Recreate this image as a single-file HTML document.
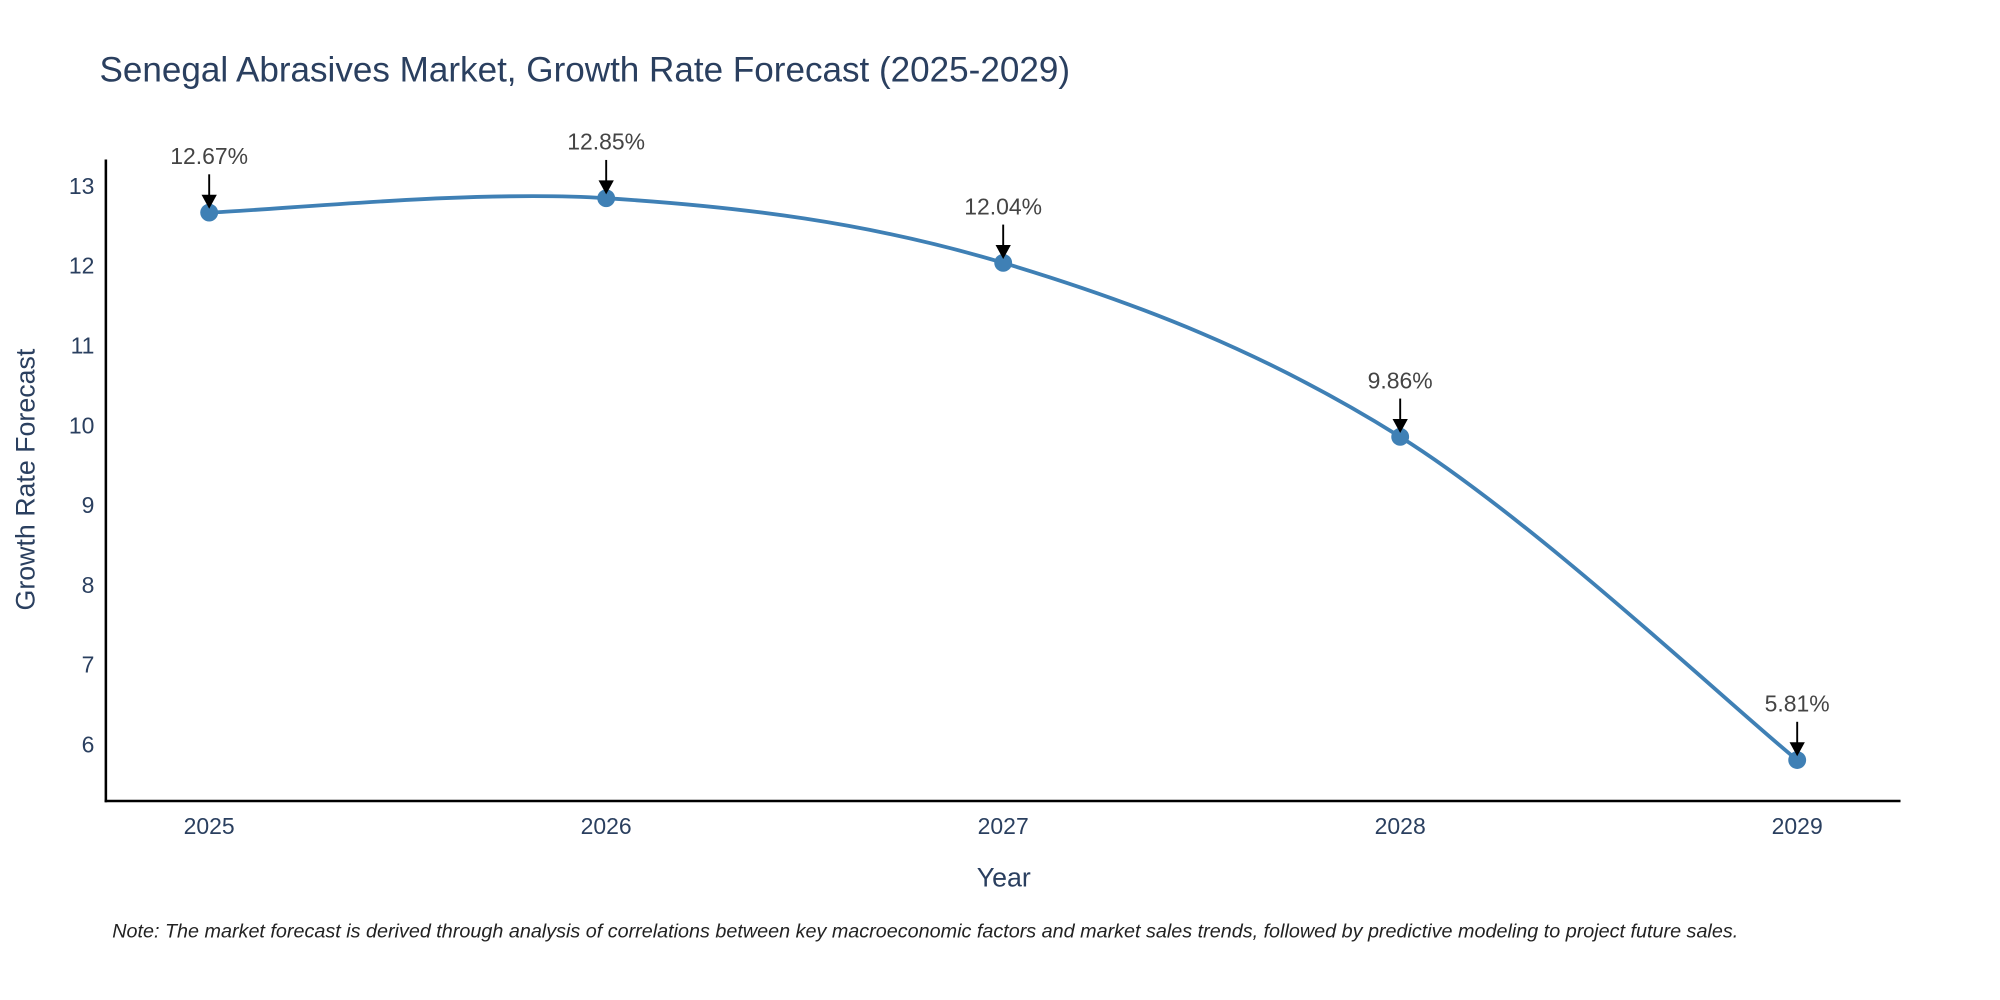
<!DOCTYPE html>
<html><head><meta charset="utf-8"><style>
html,body{margin:0;padding:0;background:#fff;width:2000px;height:1000px;overflow:hidden}
#wrap{width:1568px;height:784px;transform:scale(1.27551);transform-origin:0 0}
text{font-family:"Liberation Sans",sans-serif}
</style></head><body>
<div id="wrap">
<svg id="chart" width="1568" height="784">
<text x="78" y="64" font-size="27.5" fill="#2a3f5f">Senegal Abrasives Market, Growth Rate Forecast (2025-2029)</text>
<g id="yticks"></g><g id="xticks"></g>
<line x1="83" y1="125" x2="83" y2="629" stroke="#000" stroke-width="2"/>
<line x1="82" y1="628" x2="1490" y2="628" stroke="#000" stroke-width="2"/>
<path id="curve" fill="none" stroke="#3f80b5" stroke-width="3"/>
<g id="pts"></g>
<text x="787" y="695" font-size="21" fill="#2a3f5f" text-anchor="middle">Year</text>
<text transform="translate(27,376) rotate(-90)" font-size="21" fill="#2a3f5f" text-anchor="middle">Growth Rate Forecast</text>
<text x="88" y="735" font-size="15.5" font-style="italic" fill="#222">Note: The market forecast is derived through analysis of correlations between key macroeconomic factors and market sales trends, followed by predictive modeling to project future sales.</text>
</svg></div>
<script>
const years=["2025","2026","2027","2028","2029"];
const values=[12.67,12.85,12.04,9.86,5.81];
const valueLabels=["12.67%","12.85%","12.04%","9.86%","5.81%"];
const yTicks=[6,7,8,9,10,11,12,13];
const NS="http://www.w3.org/2000/svg";
function xs(i){return 164+i*311.25;}
function ys(v){return 584-(v-6)*62.57;}
function mk(tag,attrs,parent){const e=document.createElementNS(NS,tag);for(const k in attrs)e.setAttribute(k,attrs[k]);parent.appendChild(e);return e;}
const yt=document.getElementById('yticks');
yTicks.forEach(t=>{const e=mk('text',{x:74,y:ys(t)+6,'font-size':18,fill:'#2a3f5f','text-anchor':'end'},yt);


e.textContent=t;});
const xt=document.getElementById('xticks');
years.forEach((y,i)=>{const e=mk('text',{x:xs(i),y:654,'font-size':18,fill:'#2a3f5f','text-anchor':'middle'},xt);


e.textContent=y;});
const P=values.map((v,i)=>[xs(i),ys(v)]);
let d='M'+P[0][0]+','+P[0][1];
const s=0.17;
for(let i=0;i<P.length-1;i++){const p0=P[Math.max(0,i-1)],p1=P[i],p2=P[i+1],p3=P[Math.min(P.length-1,i+2)];
const c1=[p1[0]+(p2[0]-p0[0])*s,p1[1]+(p2[1]-p0[1])*s],c2=[p2[0]-(p3[0]-p1[0])*s,p2[1]-(p3[1]-p1[1])*s];
d+=' C'+c1+' '+c2+' '+p2;}
document.getElementById('curve').setAttribute('d',d);
const g=document.getElementById('pts');
P.forEach((p,i)=>{
const c=mk('circle',{cx:p[0],cy:p[1],r:7,fill:'#3f80b5'},g);


const l=mk('line',{x1:p[0],y1:p[1]-30,x2:p[0],y2:p[1]-12,stroke:'#000','stroke-width':1.5},g);


const a=mk('polygon',{points:(p[0]-6)+','+(p[1]-14)+' '+(p[0]+6)+','+(p[1]-14)+' '+p[0]+','+(p[1]-3),fill:'#000'},g);


const t=mk('text',{x:p[0],y:p[1]-38,'font-size':18,fill:'#444','text-anchor':'middle'},g);


t.textContent=valueLabels[i];});
</script></body></html>
